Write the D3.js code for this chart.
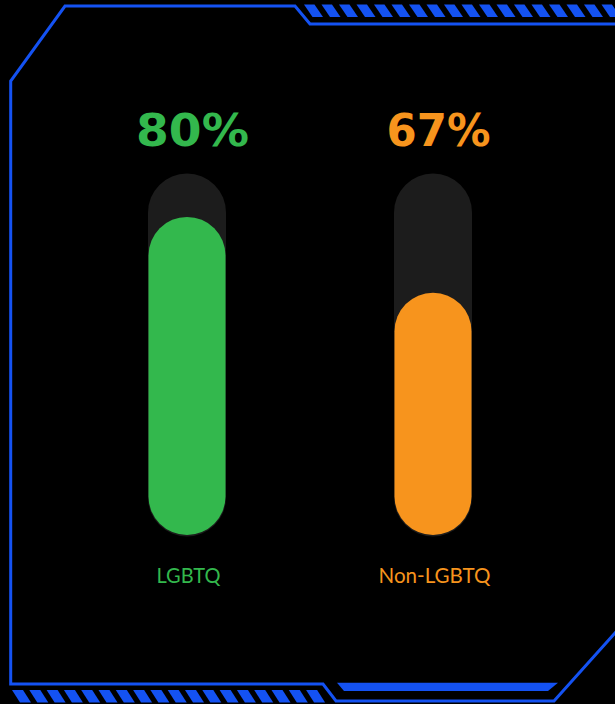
<!DOCTYPE html>
<html>
<head>
<meta charset="utf-8">
<script src="https://cdn.jsdelivr.net/npm/d3@7/dist/d3.min.js"></script>
<style>
  html, body { margin: 0; padding: 0; background: #000; }
  svg { display: block; }
</style>
</head>
<body>
<svg id="chart" width="615" height="704"></svg>
<script>
// ---- data ----
const categories = ["LGBTQ", "Non-LGBTQ"];
const values = [80, 67];           // printed percentages
const fillLevels = [88, 67];       // fill height of each bar as drawn in the reference (% of track)
const colors = ["#33b84d", "#f7941d"];

const W = 615, H = 704;
const svg = d3.select("#chart");
const blue = "#1452f2";

svg.append("rect").attr("width", W).attr("height", H).attr("fill", "#000");

// ---- decorative frame ----
svg.append("path")
  .attr("d", "M620,24 L310,24 L295,6 L65,6 L10.7,81 L10.7,684 L323,684 L336,701 L554,701 L620,627.4")
  .attr("fill", "none").attr("stroke", blue).attr("stroke-width", 3).attr("stroke-linejoin", "miter");

svg.append("path")
  .attr("d", "M337,682.7 L558,682.7 L548,691 L344,691 Z")
  .attr("fill", blue);

// top stripes
svg.append("g").selectAll("path").data(d3.range(18)).join("path")
  .attr("d", k => { const x = 304 + 17.5 * k; return `M${x},4.5 L${x + 10.5},4.5 L${x + 19},17 L${x + 8.5},17 Z`; })
  .attr("fill", blue);

// bottom stripes
svg.append("g").selectAll("path").data(d3.range(18)).join("path")
  .attr("d", k => { const x = 12 + 17.3 * k; return `M${x},690 L${x + 11},690 L${x + 19},702.5 L${x + 8},702.5 Z`; })
  .attr("fill", blue);

// ---- scales ----
const x = d3.scalePoint().domain(categories).range([187, 433]);
const y = d3.scaleLinear().domain([0, 100]).range([535, 173.5]);
const barW = 78;

const rows = categories.map((c, i) => ({ cat: c, value: values[i], fill: fillLevels[i], color: colors[i] }));

const g = svg.append("g").selectAll("g").data(rows).join("g");

// track
g.append("rect")
  .attr("x", d => x(d.cat) - barW / 2)
  .attr("y", y(100))
  .attr("width", barW)
  .attr("height", y(0) - y(100) + 1.5)
  .attr("rx", barW / 2).attr("ry", barW / 2)
  .attr("fill", "#1c1c1c");

// fill
g.append("rect")
  .attr("x", d => x(d.cat) - barW / 2 + 0.5)
  .attr("y", d => y(d.fill))
  .attr("width", barW - 1)
  .attr("height", d => y(0) - y(d.fill))
  .attr("rx", (barW - 1) / 2).attr("ry", (barW - 1) / 2)
  .attr("fill", d => d.color);

// percentage labels
g.append("text")
  .attr("x", d => x(d.cat) + 5.5)
  .attr("y", 146)
  .attr("text-anchor", "middle")
  .attr("font-family", "'DejaVu Sans', sans-serif")
  .attr("font-weight", "bold")
  .attr("font-size", 44.5)
  .attr("textLength", (d, i) => i === 0 ? 113 : 104)
  .attr("lengthAdjust", "spacingAndGlyphs")
  .attr("fill", d => d.color)
  .text(d => d.value + "%");

// category labels
g.append("text")
  .attr("x", d => x(d.cat) + 1.5)
  .attr("y", 583)
  .attr("text-anchor", "middle")
  .attr("font-family", "Lato, 'Noto Sans', sans-serif")
  .attr("font-size", 21)
  .attr("textLength", (d, i) => i === 0 ? 64 : 112)
  .attr("lengthAdjust", "spacingAndGlyphs")
  .attr("fill", d => d.color)
  .text(d => d.cat);
</script>
</body>
</html>
